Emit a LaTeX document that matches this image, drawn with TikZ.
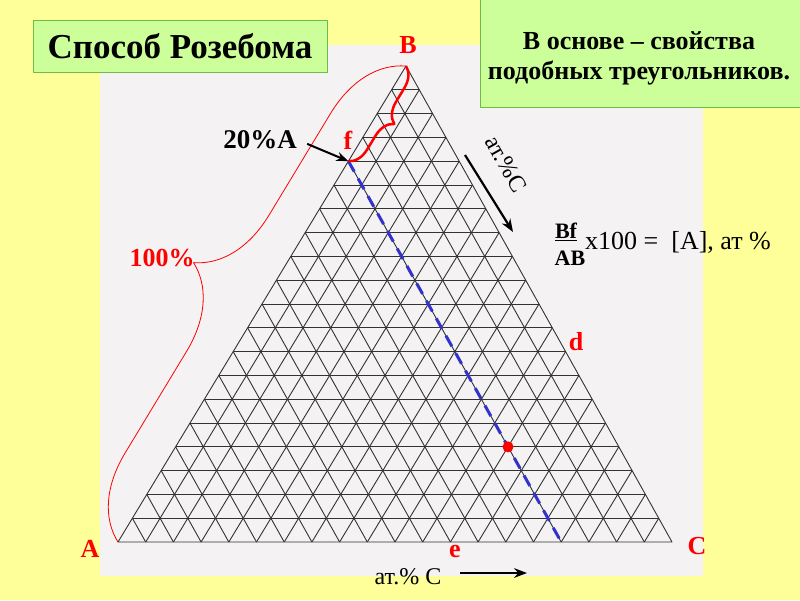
\documentclass[tikz,border=0pt]{standalone}
\usepackage{fontspec}
\setmainfont{Liberation Serif}
\usetikzlibrary{calc,decorations.pathreplacing,arrows.meta}
\definecolor{bgyellow}{RGB}{255,255,153}
\definecolor{boxgreen}{RGB}{204,255,153}
\definecolor{boxedge}{RGB}{110,190,70}
\definecolor{paper}{RGB}{244,242,242}
\definecolor{dashblue}{RGB}{51,51,204}
\begin{document}
\begin{tikzpicture}[x=1pt, y=-1pt, line join=round, >=Stealth,
	lbl/.style={text=red, font=\fontsize{26}{26}\selectfont\bfseries, inner sep=0pt},
	gridline/.style={black!80, line width=.9pt},
	greenbox/.style={fill=boxgreen, draw=boxedge, line width=1pt, inner sep=0pt}]
	\fill[bgyellow] (0,0) rectangle (800,600);
	\useasboundingbox (0,0) rectangle (800,600);
	\fill[paper] (100,45) rectangle (703,576);
	% vertices of the diagram
	\coordinate (A) at (118,542);
	\coordinate (B) at (406,66);
	\coordinate (C) at (672,542);
	\foreach \i in {1,...,19}{
		\draw[gridline] ($(B)!\i/20!(A)$) -- ($(B)!\i/20!(C)$);
		\draw[gridline] ($(C)!\i/20!(A)$) -- ($(C)!\i/20!(B)$);
		\draw[gridline] ($(A)!\i/20!(B)$) -- ($(A)!\i/20!(C)$);
	}
	\draw[gridline] (A) -- (B) -- (C) -- cycle;
	\coordinate (f) at ($(B)!.2!(A)$);
	\coordinate (e0) at ($(A)!.8!(C)$);
	\draw[dashblue, line width=3pt, dash pattern=on 12pt off 8pt] (f) -- (e0);
	\fill[red] ($(f)!.75!(e0)$) circle (5.5pt);
	% braces
	\draw[red, line width=.8pt, decorate, decoration={brace, amplitude=80pt}] (A) -- (B);
	\draw[red, line width=2.5pt, decorate, decoration={brace, amplitude=20pt}] (B) -- (f);
	% boxes
	\node[greenbox, minimum width=294pt, minimum height=52pt, font=\fontsize{35}{35}\selectfont\bfseries] (title) at (180,46) {Способ Розебома};
	\draw[greenbox] (480,-2) rectangle (802,107);
	\node[align=center, font=\fontsize{26}{30}\selectfont\bfseries] (note) at (639,58) {В основе -- свойства\\подобных треугольников.};
	% labels
	\node[lbl] (lB) at (408,45) {B};
	\node[lbl] (lf) at (348,140) {f};
	\node[lbl] (ld) at (576,342) {d};
	\node[lbl] (le) at (455,551) {e};
	\node[lbl] (lA) at (90,549) {A};
	\node[lbl] (lC) at (697,546) {C};
	\node[lbl] (pct) at (162,258) {100\%};
	\node[font=\fontsize{27}{27}\selectfont\bfseries, inner sep=1pt] (twenty) at (260,140) {20\%A};
	\draw[->, line width=2pt, shorten <=10pt] (twenty.east) -- (f);
	% at.%C along BC
	\node[rotate=-60.8, font=\fontsize{24}{24}\selectfont] (sideC) at (506,164) {ат.\%С};
	\coordinate (s1) at (465,155);
	\coordinate (s2) at (513,232);
	\draw[->, line width=2.2pt] (s1) -- (s2);
	\node[font=\fontsize{24}{24}\selectfont] (baseC) at (408,577) {ат.\% С};
	\coordinate (b1) at (460,573);
	\coordinate (b2) at (527,573);
	\draw[->, line width=2.2pt] (b1) -- (b2);
	% ratio
	\node[font=\fontsize{22}{22}\selectfont\bfseries, inner sep=0pt] (bf) at (566,232) {\underline{Bf}};
	\node[font=\fontsize{22}{22}\selectfont\bfseries, inner sep=0pt] (ab) at (570,258) {AB};
	\node[anchor=west, font=\fontsize{26}{26}\selectfont, inner sep=0pt] (res) at (585,242) {x100 = \ [A], ат \%};
\end{tikzpicture}
\end{document}
